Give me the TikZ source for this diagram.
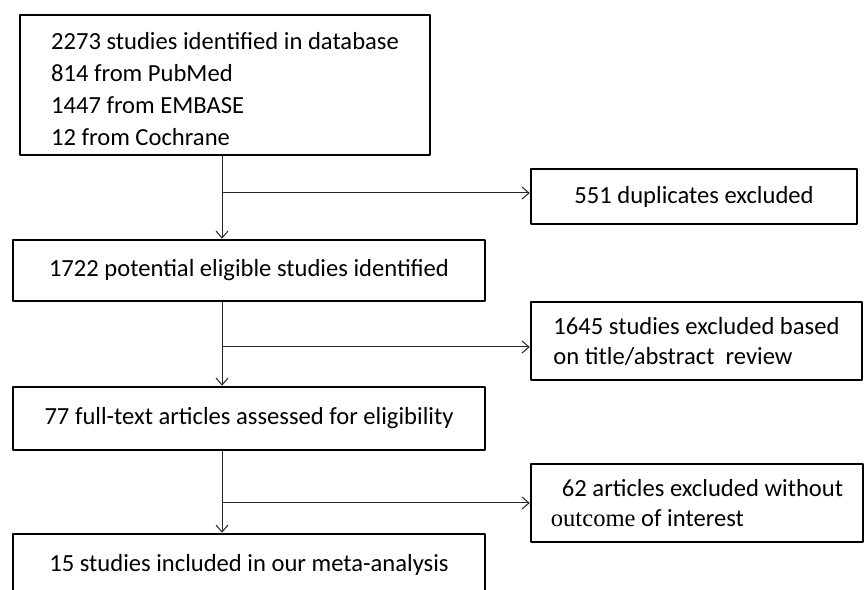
\documentclass[tikz,border=0pt]{standalone}
\usepackage{fontspec}
\setmainfont{Carlito}
\newfontfamily\serifpart{Liberation Serif}
\usepackage{tikz}
\usetikzlibrary{arrows.meta}

\begin{document}
\begin{tikzpicture}[line join=bevel,
  box/.style={draw=black, line width=2.5bp, rectangle, inner sep=0pt,
    font=\fontsize{24.6bp}{30bp}\selectfont},
  edge/.style={draw=black!85, line width=1bp},
  >={Straight Barb[length=7bp,width=12bp,line width=1bp]},
]
\useasboundingbox (0bp,0bp) rectangle (864bp,590bp);
\fill[white] (0bp,0bp) rectangle (864bp,590bp);
%%
% Node: 1
\node[box, minimum width=410bp, minimum height=140bp, align=left,
  font=\fontsize{24.6bp}{32bp}\selectfont] (n1) at (225bp,505bp)
  {\rule{0pt}{26bp}2273 studies identified in database\\814 from PubMed\\1447 from EMBASE\\12 from Cochrane};
% Node: 2
\node[box, minimum width=472bp, minimum height=61bp] (n2) at (249bp,319.5bp)
  {1722 potential eligible studies identified};
% Node: 3
\node[box, minimum width=472bp, minimum height=63bp] (n3) at (249bp,171.5bp)
  {77 full-text articles assessed for eligibility};
% Node: 4
\node[box, minimum width=472bp, minimum height=62bp] (n4) at (249bp,25bp)
  {15 studies included in our meta-analysis};
% Node: x1
\node[box, minimum width=326bp, minimum height=55bp] (x1) at (694bp,393.5bp)
  {551 duplicates excluded};
% Node: x2
\node[box, minimum width=331bp, minimum height=78bp, align=left] (x2) at (696.5bp,249bp)
  {1645 studies excluded based\\on title/abstract\ \ review};
% Node: x3
\node[box, minimum width=332bp, minimum height=78bp, align=left] (x3) at (697bp,87bp)
  {\hspace*{0.45em}62 articles excluded without\\{\serifpart outcome} of interest};
%
\coordinate (j1) at (222bp,397bp);
\coordinate (j2) at (222bp,243bp);
\coordinate (j3) at (222bp,87bp);
% Edge: 1 -> 2
\draw[edge,->] (n1.south -| j1) -- (n2.north -| j1);
% Edge: 1 -> x1
\draw[edge,->] (j1) -- (j1 -| x1.west);
% Edge: 2 -> 3
\draw[edge,->] (n2.south -| j2) -- (n3.north -| j2);
% Edge: 2 -> x2
\draw[edge,->] (j2) -- (j2 -| x2.west);
% Edge: 3 -> 4
\draw[edge,->] (n3.south -| j3) -- (n4.north -| j3);
% Edge: 3 -> x3
\draw[edge,->] (j3) -- (j3 -| x3.west);
%
\end{tikzpicture}
\end{document}
